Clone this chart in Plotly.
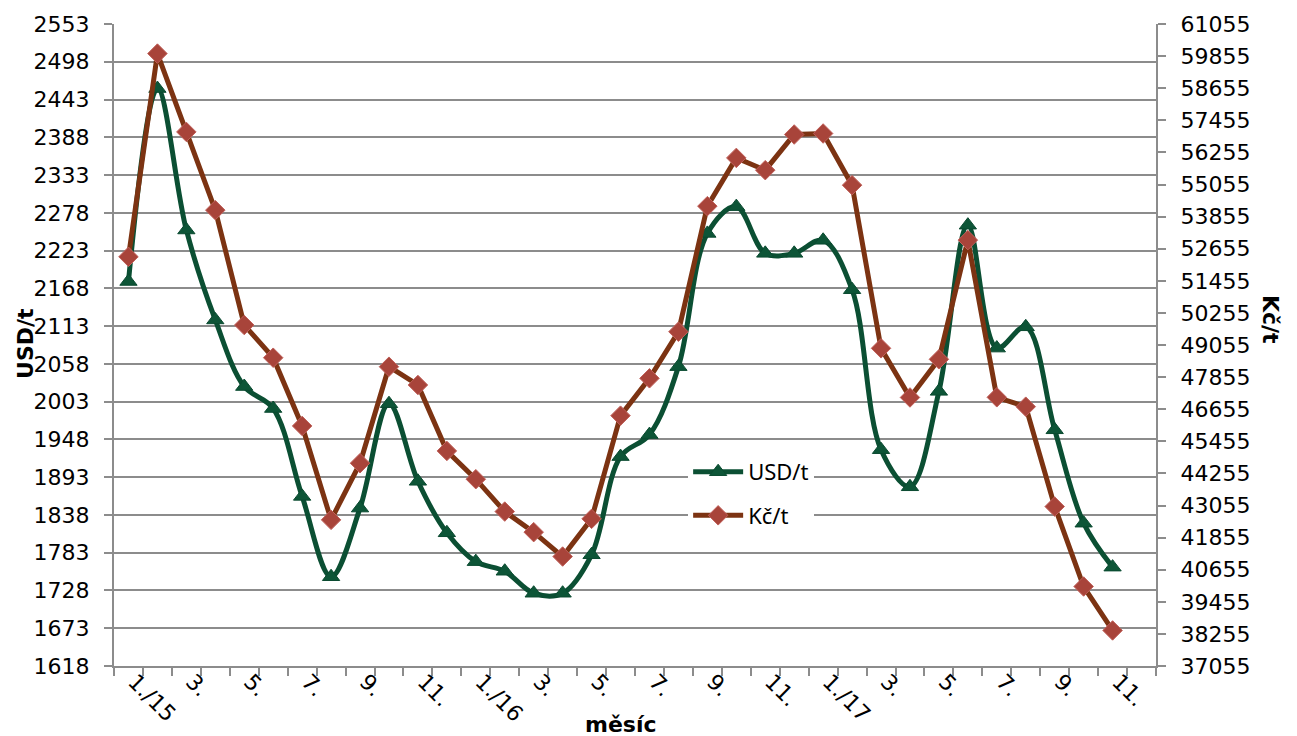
import plotly.graph_objects as go

# ---- data ----
months = ["1./15", "2.", "3.", "4.", "5.", "6.", "7.", "8.", "9.", "10.", "11.", "12.",
          "1./16", "2.", "3.", "4.", "5.", "6.", "7.", "8.", "9.", "10.", "11.", "12.",
          "1./17", "2.", "3.", "4.", "5.", "6.", "7.", "8.", "9.", "10.", "11."]
usd = [2178, 2459, 2253, 2122, 2025, 1993, 1865, 1748, 1848, 2000, 1887, 1812,
       1770, 1756, 1724, 1724, 1780, 1923, 1955, 2054, 2248, 2287, 2219, 2219,
       2238, 2166, 1933, 1879, 2018, 2260, 2081, 2112, 1962, 1826, 1762]
czk = [52352, 59949, 57021, 54097, 49801, 48580, 46029, 42518, 44636, 48244, 47560, 45095,
       44038, 42828, 42059, 41147, 42556, 46414, 47810, 49551, 54246, 56050, 55591, 56924,
       56961, 55030, 48931, 47094, 48520, 52976, 47100, 46750, 43015, 40027, 38384]
usd_ticks = [1618, 1673, 1728, 1783, 1838, 1893, 1948, 2003, 2058, 2113, 2168,
             2223, 2278, 2333, 2388, 2443, 2498, 2553]
czk_ticks = [37055, 38255, 39455, 40655, 41855, 43055, 44255, 45455, 46655, 47855, 49055,
             50255, 51455, 52655, 53855, 55055, 56255, 57455, 58655, 59855, 61055]
n_slots = 36  # category slots on the axis

x = list(range(len(months)))
label_idx = [i for i in x if i % 2 == 0]

GRID = "#8c8c8c"
FONT = "DejaVu Sans"
TS = 22

fig = go.Figure()
fig.add_trace(go.Scatter(
    x=x, y=usd, name="USD/t", legendgroup="a", yaxis="y",
    mode="lines+markers", line=dict(color="#0b4f33", width=5, shape="spline", smoothing=1.0),
    marker=dict(symbol="triangle-up", size=15, color="#0d5537",
                line=dict(color="#0a4a30", width=1)),
))
fig.add_trace(go.Scatter(
    x=x, y=czk, name="Kč/t", legendgroup="b", yaxis="y2",
    mode="lines+markers", line=dict(color="#7c3312", width=5),
    marker=dict(symbol="diamond", size=15, color="#a8443a",
                line=dict(color="#c0605a", width=1)),
))

fig.update_layout(
    width=1297, height=736,
    margin=dict(l=106, r=149, t=16, b=78, autoexpand=False),
    paper_bgcolor="white", plot_bgcolor="white",
    font=dict(family=FONT, size=TS, color="black"),
    showlegend=True,
    legend=dict(x=0.551, y=0.335, xanchor="left", yanchor="top",
                bgcolor="white", font=dict(family="Noto Sans", size=22),
                tracegroupgap=12, itemwidth=50),
    xaxis=dict(range=[-0.5, n_slots - 0.5], tickmode="array",
               tickvals=label_idx, ticktext=[months[i] for i in label_idx],
               tickangle=45, ticks="", showgrid=False, zeroline=False, automargin=False,
               ticklabelstandoff=-8, ticklabelshift=6,
               showline=True, linecolor=GRID, linewidth=2,
               minor=dict(tick0=-0.5, dtick=1, ticks="outside", ticklen=8,
                          tickcolor=GRID, tickwidth=2, showgrid=False),
               tickfont=dict(family=FONT, size=TS)),
    yaxis=dict(range=[usd_ticks[0], usd_ticks[-1]], tickmode="array", tickvals=usd_ticks,
               tickformat="d", automargin=False,
               ticks="outside", ticklen=8, tickcolor=GRID, tickwidth=2,
               ticklabelstandoff=10,
               showgrid=True, gridcolor=GRID, gridwidth=2, zeroline=False,
               showline=True, linecolor=GRID, linewidth=2,
               tickfont=dict(family=FONT, size=TS)),
    yaxis2=dict(range=[czk_ticks[0], czk_ticks[-1]], tickmode="array", tickvals=czk_ticks,
                tickformat="d", automargin=False,
                overlaying="y", side="right",
                ticks="outside", ticklen=8, tickcolor=GRID, tickwidth=2,
                ticklabelstandoff=10,
                showgrid=False, zeroline=False,
                showline=True, linecolor=GRID, linewidth=2,
                tickfont=dict(family=FONT, size=TS)),
    annotations=[
        dict(text="<b>USD/t</b>", textangle=-90, xref="paper", yref="paper",
             x=-0.0855, y=0.503, xanchor="center", yanchor="middle",
             showarrow=False, font=dict(family=FONT, size=22)),
        dict(text="<b>Kč/t</b>", textangle=90, xref="paper", yref="paper",
             x=1.1094, y=0.539, xanchor="center", yanchor="middle",
             showarrow=False, font=dict(family=FONT, size=22)),
        dict(text="<b>měsíc</b>", xref="paper", yref="paper",
             x=0.4866, y=-0.0919, xanchor="center", yanchor="middle",
             showarrow=False, font=dict(family=FONT, size=22)),
    ],
)

fig.write_html("out.html")
